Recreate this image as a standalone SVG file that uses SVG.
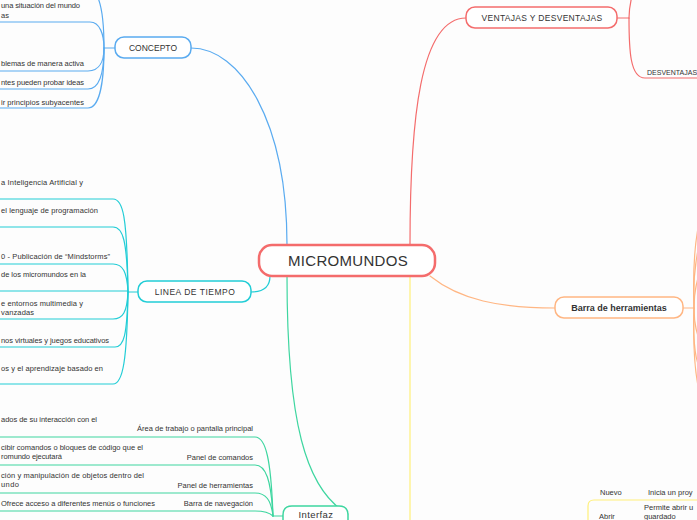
<svg xmlns="http://www.w3.org/2000/svg" width="697" height="520" viewBox="0 0 697 520">
<style>
text{font-family:"Liberation Sans",Arial,sans-serif;fill:#333}
.s{font-size:7.5px}
.e{text-anchor:end}
.c{text-anchor:middle}
.n{fill:#fff}
.ln{fill:none;stroke-width:1.2;stroke-linecap:round}
.blue{stroke:#5aabf0}
.cyan{stroke:#22cdd6}
.green{stroke:#3ed6a0}
.red{stroke:#f46c6c}
.orange{stroke:#ffb683}
.yellow{stroke:#fff07a}
</style>
<rect x="0" y="0" width="697" height="520" fill="#fdfdfd"/>
<g id="connectors">
  <path class="ln blue" stroke-width="1.6" d="M191,48 C240,48 287,120 287,245"/>
  <path class="ln red" stroke-width="1.6" d="M410,245 C410,120 420,18 466,18"/>
  <path class="ln cyan" stroke-width="1.6" d="M251,292 C264,292 270,286 270,276"/>
  <path class="ln green" stroke-width="1.6" d="M287,276 C287,420 305,490 348,514"/>
  <path class="ln orange" stroke-width="1.6" d="M430,276 C460,300 500,308 555,308"/>
  <path class="ln yellow" stroke-width="1.4" d="M410,276 V520"/>
  <!-- concepto children -->
  <path class="ln blue" d="M104,48 H115"/>
  <path class="ln blue" d="M96,-6 C101,2 104,20 104,48"/>
  <path class="ln blue" d="M0,22 H90 C100,22 104,35 104,48"/>
  <path class="ln blue" d="M0,71 H88 C100,71 104,60 104,48"/>
  <path class="ln blue" d="M0,89 H88 C100,89 104,70 104,48"/>
  <path class="ln blue" d="M0,108 H88 C100,108 104,80 104,48"/>
  <!-- linea de tiempo children -->
  <path class="ln cyan" d="M128,292 H138"/>
  <path class="ln cyan" d="M0,199 H113 C123,199 127,215 128,292"/>
  <path class="ln cyan" d="M0,227 H113 C123,227 127,240 128,292"/>
  <path class="ln cyan" d="M0,264 H113 C123,264 127,272 128,292"/>
  <path class="ln cyan" d="M0,291 H128"/>
  <path class="ln cyan" d="M0,319 H113 C123,319 127,312 128,292"/>
  <path class="ln cyan" d="M0,347 H115 C124,347 127,335 128,292"/>
  <path class="ln cyan" d="M0,384 H113 C123,384 127,360 128,292"/>
  <!-- interfaz children -->
  <path class="ln green" d="M273,516 H283"/>
  <path class="ln green" d="M0,437 H255 C266,437 271,460 273,516"/>
  <path class="ln green" d="M0,465 H255 C266,465 271,480 273,516"/>
  <path class="ln green" d="M0,493 H255 C266,493 271,500 273,516"/>
  <path class="ln green" d="M0,511 H255 C266,511 270,513 273,516"/>
  <!-- ventajas children -->
  <path class="ln red" d="M617,18 H629"/>
  <path class="ln red" d="M629,18 C629,10 630,4 632,-4"/>
  <path class="ln red" d="M629,18 C629,50 630,78 645,78 H697"/>
  <!-- barra de herramientas children -->
  <path class="ln orange" d="M683,308 H694"/>
  <path class="ln orange" d="M694,308 C693,280 694,250 698,228"/>
  <path class="ln orange" d="M694,308 C693,285 695,265 698,250"/>
  <path class="ln orange" d="M694,308 C694,295 696,285 698,278"/>
  <path class="ln orange" d="M694,308 C694,320 696,330 698,336"/>
  <path class="ln orange" d="M694,308 C693,335 695,355 698,364"/>
  <path class="ln orange" d="M694,308 C693,340 694,365 698,386"/>
  <!-- yellow sub box -->
  <path class="ln yellow" d="M697,500 H594 Q588,500 588,506 V520"/>
</g>
<g id="micromundos">
  <rect class="n" x="259" y="245" width="176" height="31" rx="13" stroke="#f46c6c" stroke-width="2.5"/>
  <text class="c" x="348" y="266" font-size="15" letter-spacing="0.3">MICROMUNDOS</text>
</g>
<g id="concepto">
  <rect class="n" x="115" y="37" width="76" height="21" rx="9" stroke="#5aabf0" stroke-width="1.5"/>
  <text class="c" x="153" y="51" font-size="8.5">CONCEPTO</text>
</g>
<g id="concepto-items">
  <text class="s" x="1" y="8" textLength="79" lengthAdjust="spacing">una situación del mundo</text>
  <text class="s" x="1" y="17.5">as</text>
  <text class="s" x="1" y="65.5" textLength="83" lengthAdjust="spacing">blemas de manera activa</text>
  <text class="s" x="1" y="84.5" textLength="83" lengthAdjust="spacing">ntes pueden probar ideas</text>
  <text class="s" x="1" y="104.5" textLength="83" lengthAdjust="spacing">ir principios subyacentes</text>
</g>
<g id="linea-de-tiempo">
  <rect class="n" x="138" y="281" width="113" height="21" rx="9" stroke="#22cdd6" stroke-width="1.5"/>
  <text class="c" x="195" y="294.5" font-size="8.5" letter-spacing="0.5">LINEA DE TIEMPO</text>
</g>
<g id="linea-items">
  <text class="s" x="1" y="184.5" textLength="82" lengthAdjust="spacing">a Inteligencia Artificial y</text>
  <text class="s" x="1" y="212.5" textLength="97" lengthAdjust="spacing">el lenguaje de programación</text>
  <text class="s" x="1" y="258.5" textLength="109" lengthAdjust="spacing">0 - Publicación de “Mindstorms”</text>
  <text class="s" x="1" y="277" textLength="85" lengthAdjust="spacing">de los micromundos en la</text>
  <text class="s" x="1" y="305.5" textLength="82" lengthAdjust="spacing">e entornos multimedia y</text>
  <text class="s" x="1" y="314.5" textLength="33" lengthAdjust="spacing">vanzadas</text>
  <text class="s" x="1" y="342.5" textLength="108" lengthAdjust="spacing">nos virtuales y juegos educativos</text>
  <text class="s" x="1" y="370.5" textLength="102" lengthAdjust="spacing">os y el aprendizaje basado en</text>
</g>
<g id="interfaz">
  <path class="n" d="M283,520 V515 Q283,506 292,506 H339 Q348,506 348,515 V520" stroke="#3ed6a0" stroke-width="1.5"/>
  <text class="c" x="316" y="518" font-size="9.5" letter-spacing="0.4">Interfaz</text>
</g>
<g id="interfaz-items">
  <text class="s e" x="253" y="430.5">Área de trabajo o pantalla principal</text>
  <text class="s e" x="253" y="459.5">Panel de comandos</text>
  <text class="s e" x="253" y="487.5">Panel de herramientas</text>
  <text class="s e" x="253" y="505.5">Barra de navegación</text>
  <text class="s" x="1" y="421.5" textLength="96" lengthAdjust="spacing">ados de su interacción con el</text>
  <text class="s" x="1" y="449.5" textLength="142" lengthAdjust="spacing">cibir comandos o bloques de código que el</text>
  <text class="s" x="1" y="458.5" textLength="61" lengthAdjust="spacing">romundo ejecutará</text>
  <text class="s" x="1" y="477.5" textLength="143" lengthAdjust="spacing">ción y manipulación de objetos dentro del</text>
  <text class="s" x="1" y="486.5" textLength="18" lengthAdjust="spacing">undo</text>
  <text class="s" x="1" y="505.5" textLength="154" lengthAdjust="spacing">Ofrece acceso a diferentes menús o funciones</text>
</g>
<g id="ventajas">
  <rect class="n" x="466" y="7" width="151" height="21" rx="9" stroke="#f46c6c" stroke-width="1.5"/>
  <text class="c" x="542" y="21" font-size="8.5" letter-spacing="0.3">VENTAJAS Y DESVENTAJAS</text>
</g>
<g id="desventajas">
  <text x="647" y="75" font-size="7">DESVENTAJAS</text>
</g>
<g id="barra-de-herramientas">
  <rect class="n" x="555" y="297" width="128" height="21" rx="9" stroke="#ffb683" stroke-width="1.5"/>
  <text class="c" x="619" y="311" font-size="9" font-weight="bold">Barra de herramientas</text>
</g>
<g id="archivo-items">
  <text class="s" x="600" y="495">Nuevo</text>
  <text class="s" x="648" y="495">Inicia un proy</text>
  <text class="s" x="644" y="510">Permite abrir u</text>
  <text class="s" x="644" y="518.5" font-size="6">guardado</text>
  <text class="s" x="599" y="518.5" font-size="6">Abrir</text>
</g>
</svg>
